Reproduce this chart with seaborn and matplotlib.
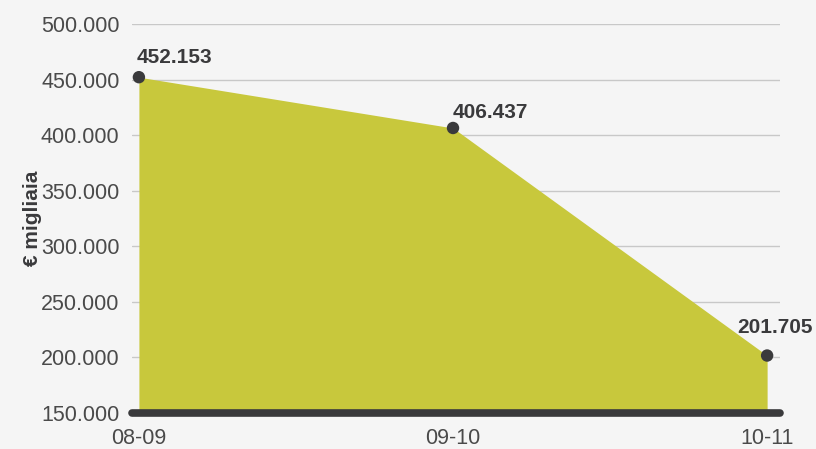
import matplotlib
matplotlib.use('Agg')
import matplotlib.pyplot as plt
import seaborn as sns
import pandas as pd

# dati
stagioni = ['08-09', '09-10', '10-11']
valori = [452153, 406437, 201705]
etichette = ['452.153', '406.437', '201.705']
yticks = [150000, 200000, 250000, 300000, 350000, 400000, 450000, 500000]

df = pd.DataFrame({'pos': range(len(stagioni)), 'valore': valori})

sns.set_theme(style='white')
plt.rcParams['font.family'] = ['Liberation Sans', 'DejaVu Sans']

bg = '#f5f5f5'
verde = '#c8c83c'
scuro = '#3a3a3c'

fig = plt.figure(figsize=(8.16, 4.49), dpi=100, facecolor=bg)
ax = fig.add_axes([132/816, 36/449, (780-132)/816, (413-24)/449])
ax.set_facecolor(bg)

ax.fill_between(df['pos'], df['valore'], yticks[0], color=verde, lw=0, zorder=2)
sns.scatterplot(data=df, x='pos', y='valore', color=scuro, s=80, edgecolor='none',
                zorder=4, ax=ax, clip_on=False)

ax.axhline(yticks[0], color=scuro, lw=5.5, solid_capstyle='round', zorder=5, clip_on=False)

for y in yticks[1:]:
    ax.axhline(y, color='#c8c8c8', lw=1, zorder=1)

offsets = [(-2, 14, 'left'), (0, 10, 'left'), (46, 23, 'right')]
for i, (dx, dy, ha) in enumerate(offsets):
    ax.annotate(etichette[i], (df['pos'][i], df['valore'][i]), xytext=(dx, dy),
                textcoords='offset pixels', ha=ha, va='baseline', fontsize=15,
                fontweight='bold', color=scuro, annotation_clip=False)

ax.set_xlim(-0.022, 2.041)
ax.set_ylim(yticks[0], yticks[-1])
ax.set_xticks(df['pos'])
ax.set_xticklabels(stagioni)
ax.set_yticks(yticks)
ax.set_yticklabels([f'{v:,}'.replace(',', '.') for v in yticks])
ax.tick_params(axis='both', length=0, labelsize=15.5, labelcolor='#4a4a4a')
ax.tick_params(axis='y', pad=9)
ax.tick_params(axis='x', pad=11)
ax.set_xlabel('')
ax.set_ylabel('€ migliaia', fontsize=15, fontweight='bold', color=scuro, labelpad=-1)
for s in ax.spines.values():
    s.set_visible(False)

fig.savefig('out.png', dpi=100, facecolor=bg)
